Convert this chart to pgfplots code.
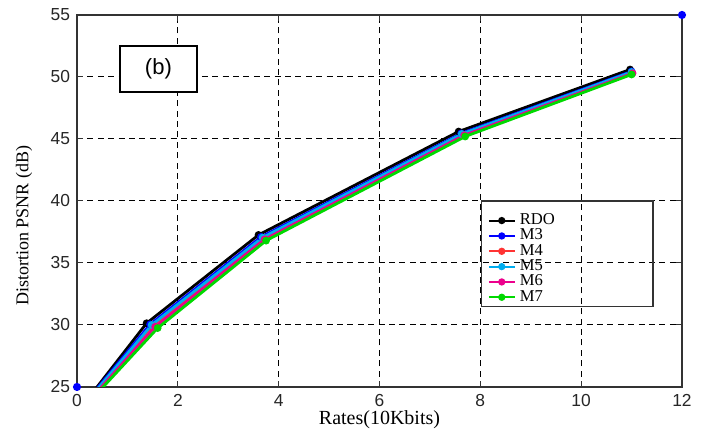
\documentclass[border=0pt]{standalone}
\usepackage{pgfplots}
\pgfplotsset{compat=1.18}
\usepackage{fontspec}
\setmainfont{Liberation Sans}
\newfontfamily\serifa{Liberation Serif}
\begin{document}
\begin{tikzpicture}[x=1pt,y=1pt]
\begin{axis}[
  scale only axis,
  width=302.5pt, height=186pt,
  xmin=0, xmax=12, ymin=25, ymax=55,
  xtick={0,2,...,12}, ytick={25,30,...,55},
  tick align=inside,
  major tick length=3pt,
  axis line style={line width=0.8pt, black!80},
  tick style={black!80, line width=0.5pt},
  grid=major,
  major grid style={black, line width=0.5pt, dash pattern=on 3pt off 2.2pt},
  /pgf/number format/assume math mode=true,
  ticklabel style={font=\fontsize{8.7}{10}\selectfont, text=black!85},
  xlabel={Rates(10Kbits)},
  ylabel={Distortion PSNR (dB)},
  xlabel style={font=\serifa\fontsize{10}{12}\selectfont, at={(axis description cs:0.5,-0.089)}, anchor=center},
  ylabel style={font=\serifa\fontsize{9}{11}\selectfont, at={(axis description cs:-0.0876,0.433)}, anchor=center},
  legend style={draw=none, fill=none, at={(axis cs:8.1,39.5)}, anchor=north west,
    font=\serifa\fontsize{8.3}{8.5}\selectfont, row sep=-3.3pt, inner sep=1pt},
  legend cell align=left,
  legend image code/.code={\draw[line width=1pt, mark size=1.3pt, mark repeat=2, mark phase=2] plot coordinates {(0pt,0pt)(6.5pt,0pt)(13pt,0pt)};},
  every axis plot/.append style={line width=1.4pt, mark=*, mark size=1.2pt},
]
\coordinate (bbsw) at (axis description cs:-0.1273,-0.1237);
\coordinate (bbne) at (axis description cs:1.0397,1.0403);
\addplot[black] coordinates {(0.34,24.7)(1.38,30.14)(3.60,37.26)(7.57,45.6)(10.97,50.6)};
\addlegendentry{RDO}
\addplot[blue] coordinates {(0.36,24.7)(1.45,30.05)(3.65,37.1)(7.62,45.45)(11.0,50.45)};
\addlegendentry{M3}
\addplot[red!80] coordinates {(0.39,24.7)(1.5,29.95)(3.7,37.0)(7.65,45.35)(11.0,50.35)};
\addlegendentry{M4}
\addplot[cyan] coordinates {(0.38,24.7)(1.48,30.0)(3.68,37.05)(7.63,45.4)(11.0,50.4)};
\addlegendentry{M5}
\addplot[magenta] coordinates {(0.42,24.7)(1.55,29.85)(3.72,36.9)(7.68,45.3)(11.02,50.3)};
\addlegendentry{M6}
\addplot[green!85!black] coordinates {(0.45,24.7)(1.6,29.75)(3.75,36.8)(7.7,45.2)(11.0,50.2)};
\addlegendentry{M7}
\addplot[blue, only marks, mark=*, mark size=1.3pt, forget plot, clip=false] coordinates {(0,25)(12,55)};
\draw[line width=0.8pt, black!80, fill=none] (axis cs:8.02,31.5) rectangle (axis cs:11.43,40);
\node[draw=black, line width=0.8pt, fill=white, minimum width=38.5pt, minimum height=23pt, font=\fontsize{11}{12}\selectfont] at (axis cs:1.615,50.65) {(b)};
\end{axis}
\path (bbsw) rectangle (bbne);
\end{tikzpicture}
\end{document}
